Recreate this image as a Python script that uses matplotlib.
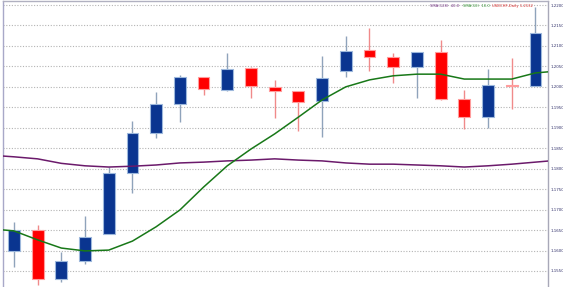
import matplotlib
matplotlib.use("Agg")
import matplotlib.pyplot as plt
from matplotlib.patches import Rectangle
import numpy as np

# OHLC data (USDCHF daily)
opens  = [1.1599, 1.1650, 1.1530, 1.1574, 1.1640, 1.1789, 1.1887, 1.1958, 1.2024, 1.1992,
          1.2046, 1.2000, 1.1990, 1.1965, 1.2039, 1.2090, 1.2073, 1.2048, 1.2085, 1.1970,
          1.1926, 1.2004, 1.2002]
highs  = [1.1670, 1.1662, 1.1596, 1.1684, 1.1804, 1.1917, 1.1987, 1.2029, 1.2025, 1.2083,
          1.2048, 1.2017, 1.1990, 1.2075, 1.2124, 1.2144, 1.2083, 1.2086, 1.2114, 1.1992,
          1.2044, 1.2070, 1.2195]
lows   = [1.1560, 1.1515, 1.1523, 1.1567, 1.1640, 1.1741, 1.1875, 1.1914, 1.1980, 1.1991,
          1.1973, 1.1924, 1.1892, 1.1877, 1.2024, 1.2039, 1.2009, 1.1973, 1.1968, 1.1897,
          1.1899, 1.1946, 1.2002]
closes = [1.1650, 1.1530, 1.1574, 1.1633, 1.1789, 1.1887, 1.1958, 1.2024, 1.1995, 1.2044,
          1.2002, 1.1990, 1.1963, 1.2022, 1.2088, 1.2073, 1.2048, 1.2085, 1.1970, 1.1926,
          1.2004, 1.2002, 1.2132]

# moving averages, indices -1 .. 23
sma_fast = [1.1653, 1.1648, 1.1626, 1.1606, 1.1599, 1.1601, 1.1623, 1.1658, 1.1699, 1.1755,
            1.1807, 1.1848, 1.1885, 1.1926, 1.1968, 1.2000, 1.2017, 1.2027, 1.2031, 1.2031,
            1.2019, 1.2019, 1.2019, 1.2034, 1.2039]
sma_slow = [1.1833, 1.1829, 1.1824, 1.1813, 1.1807, 1.1804, 1.1806, 1.1809, 1.1814, 1.1816,
            1.1819, 1.1821, 1.1824, 1.1821, 1.1819, 1.1814, 1.1811, 1.1811, 1.1809, 1.1807,
            1.1804, 1.1807, 1.1811, 1.1816, 1.1821]

y_ticks = [1.2200, 1.2150, 1.2100, 1.2050, 1.2000, 1.1950, 1.1900, 1.1850, 1.1800,
           1.1750, 1.1700, 1.1650, 1.1600, 1.1550]

W, H = 563, 287
fig = plt.figure(figsize=(W / 100, H / 100), dpi=100)
fig.patch.set_facecolor("white")
ax = fig.add_axes([3 / W, 0, (548 - 3) / W, 1 - 1 / H])

n = len(opens)
x = np.arange(n)
bw = 0.5
up_face, up_edge, up_wick = "#0a3590", "#9db8dc", "#8fa3bb"
dn_face, dn_edge, dn_wick = "#ff0000", "#ff9c9c", "#f08a8a"

for i in x:
    o, h, l, c = opens[i], highs[i], lows[i], closes[i]
    up = c >= o
    ax.vlines(i, l, h, color=up_wick if up else dn_wick, lw=1.0, zorder=2)
    bottom = min(o, c)
    height = max(abs(c - o), 0.00008)
    ax.add_patch(Rectangle((i - bw / 2, bottom), bw, height,
                           facecolor=up_face if up else dn_face,
                           edgecolor=up_edge if up else dn_edge,
                           lw=0.8, zorder=3))

xm = np.arange(-1, n + 1)
ax.plot(xm, sma_slow, color="#6b1a6b", lw=1.1, zorder=4)
ax.plot(xm, sma_fast, color="#187818", lw=1.1, zorder=4)

ax.set_xlim(-0.46, 22.53)
ax.set_ylim(1.15108, 1.22098)
ax.set_yticks(y_ticks)
ax.set_yticklabels([f"{v:.4f}" for v in y_ticks])
ax.yaxis.tick_right()
ax.tick_params(axis="y", length=0, pad=1.5, labelsize=2.9, labelcolor="#30306a")
ax.set_xticks([])
ax.grid(axis="y", color="#b4b4b4", lw=0.8, ls=(0, (1, 1.5)))
ax.set_axisbelow(True)
ax.spines["bottom"].set_visible(False)
ax.spines["left"].set_color("#a8a8c8")
ax.spines["top"].set_color("#b0b0c0")
ax.spines["right"].set_color("#a8a8b8")
for s in ["left", "top", "right"]:
    ax.spines[s].set_linewidth(1.0)

# legend text at top right
fig.text(430 / W, 1 - 6 / H, "SMA(128)  40.0", color="#7a3a8a", fontsize=2.7, va="center", ha="left")
fig.text(463 / W, 1 - 6 / H, "SMA(10)  10.0", color="#3a9a3a", fontsize=2.7, va="center", ha="left")
fig.text(492 / W, 1 - 6 / H, "USDCHF,Daily 1.2132", color="#e03030", fontsize=2.7, va="center", ha="left")

fig.savefig("out.png", dpi=100, facecolor="white")
